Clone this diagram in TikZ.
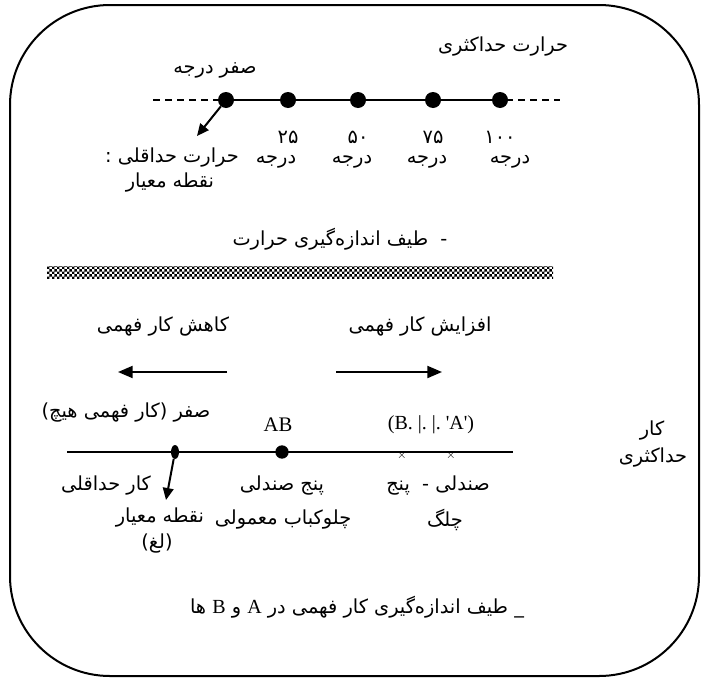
\documentclass[tikz,border=0pt]{standalone}
\usepackage{fontspec}
\setmainfont{Liberation Serif}
\newfontfamily\farsifont[Script=Arabic]{DejaVu Sans}
\TeXXeTstate=1
\usetikzlibrary{arrows.meta,patterns,shapes.geometric}
\newcommand{\fatxt}[1]{{\farsifont\beginR #1\endR}}
\pgfdeclarepatternformonly{finechecks}{\pgfpointorigin}{\pgfqpoint{4pt}{4pt}}{\pgfqpoint{4pt}{4pt}}{
	\pgfpathrectangle{\pgfpointorigin}{\pgfqpoint{2pt}{2pt}}
	\pgfpathrectangle{\pgfqpoint{2pt}{2pt}}{\pgfqpoint{2pt}{2pt}}
	\pgfusepath{fill}}

\begin{document}
\begin{tikzpicture}[x=0.75pt, y=-0.75pt,
	every node/.style={font=\fontsize{14.5}{16}\selectfont, inner sep=1pt},
	dot/.style={circle, fill, inner sep=0pt, minimum size=12pt},
	refdot/.style={ellipse, fill, inner sep=0pt, minimum width=6pt, minimum height=10.5pt},
	>={Triangle[length=9pt, width=8pt]}]
	\useasboundingbox (0,0) rectangle (702,678);
	\draw[line width=1.5pt, rounded corners=75pt] (10,5) rectangle (699,676);
	\node (maxtemp) at (503,47) {\fatxt{حرارت حداکثری}};
	\node (zerodeg) at (215,70) {\fatxt{صفر درجه}};
	\draw[line width=1pt, dash pattern=on 5pt off 4pt] (153,100) -- (220,100);
	\draw[line width=1pt, dash pattern=on 5pt off 4pt] (506,100) -- (560,100);
	\node[dot] (t0) at (226,100) {};
	\foreach \n/\x/\v/\dx in {1/288/۲۵/276, 2/358/۵۰/352, 3/433/۷۵/427, 4/500/۱۰۰/510} {
		\node[dot] (t\n) at (\x,100) {};
		\node (num\n) at (\x,137) {\fatxt{\v}};
		\node (deg\n) at (\dx,162) {\fatxt{درجه}};
	}
	\draw[line width=1.5pt] (t0) -- (t4);
	\coordinate (tmin) at (197,136);
	\draw[->, line width=1.5pt] (t0) -- (tmin);
	\node (tminA) at (172,158) {\fatxt{حرارت حداقلی :}};
	\node (tminB) at (170,183) {\fatxt{نقطه معیار}};
	\node (capT) at (340,239) {\fatxt{-\ \ طیف اندازه‌گیری حرارت}};
	\fill[pattern=finechecks] (47,266) rectangle (553,278);
	\node (less) at (163,327) {\fatxt{کاهش کار فهمی}};
	\node (more) at (420,327) {\fatxt{افزایش کار فهمی}};
	\coordinate (lessS) at (227,372);
	\coordinate (lessE) at (118,372);
	\coordinate (moreS) at (336,372);
	\coordinate (moreE) at (442,372);
	\draw[->, line width=1.5pt, >={Triangle[length=11pt, width=9pt]}] (lessS) -- (lessE);
	\draw[->, line width=1.5pt, >={Triangle[length=11pt, width=9pt]}] (moreS) -- (moreE);
	\coordinate (axL) at (67,452);
	\coordinate (axR) at (513,452);
	\node[refdot] (ref) at (175,452) {};
	\node[dot, minimum size=10pt] (ab) at (282,452) {};
	\draw[line width=1pt] (axL) -- (ref.center);
	\draw[line width=1.7pt] (ref.center) -- (axR);
	\foreach \n/\x in {1/402, 2/451}
		\node[font=\fontsize{9}{9}\selectfont, inner sep=0pt] (cr\n) at (\x,455) {$\times$};
	\node[font=\fontsize{15.5}{17}\selectfont] (ablbl) at (278,425) {AB};
	\node[font=\fontsize{15}{16}\selectfont] (balbl) at (431,425) {(B.~|.~|.~\textquotesingle A\textquotesingle)};
	\node (zeroW) at (126,413) {\fatxt{صفر (کار فهمی هیچ)}};
	\node (maxW1) at (652,431) {\fatxt{کار}};
	\node (maxW2) at (653,458) {\fatxt{حداکثری}};
	\node (minW) at (106,486) {\fatxt{کار حداقلی}};
	\coordinate (refE) at (166,500);
	\draw[->, line width=1.5pt] (ref) -- (refE);
	\node (refA) at (160,518) {\fatxt{نقطه معیار}};
	\node (refB) at (157,544) {\fatxt{(لغ)}};
	\node (abA) at (282,486) {\fatxt{پنج صندلی}};
	\node (abB) at (283,520) {\fatxt{چلوکباب معمولی}};
	\node (baA) at (438,486) {\fatxt{صندلی -\ \ پنج}};
	\node (baB) at (445,520) {\fatxt{چلگ}};
	\node (capB) at (357,607) {\fatxt{\_\ طیف اندازه‌گیری کار فهمی در {\rmfamily\fontsize{15}{16}\selectfont A} و {\rmfamily\fontsize{15}{16}\selectfont B} ها}};
\end{tikzpicture}
\end{document}
